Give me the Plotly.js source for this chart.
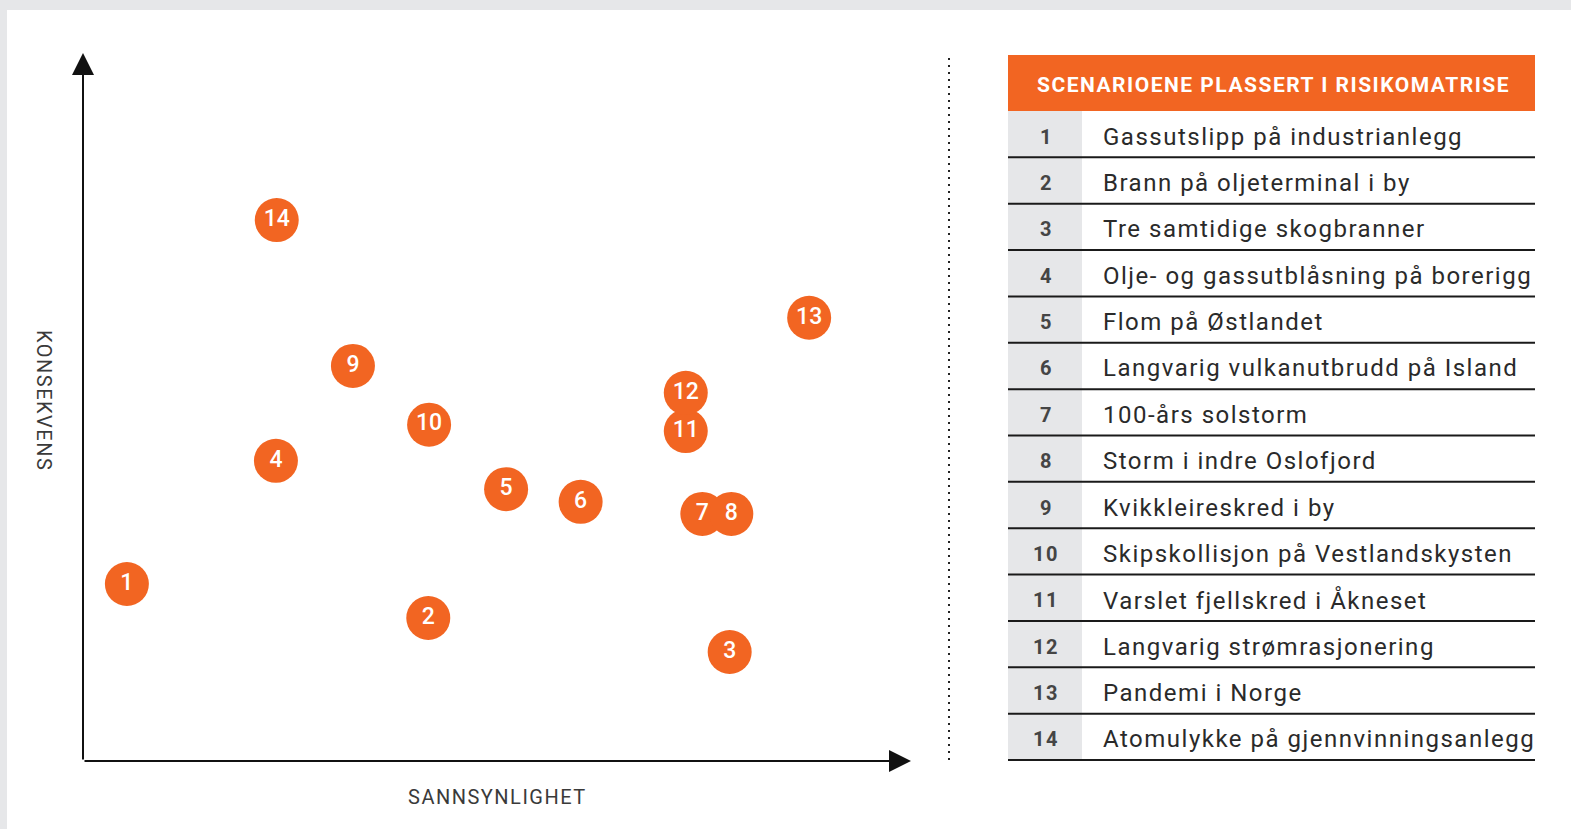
<!DOCTYPE html>
<html>
<head>
<meta charset="utf-8">
<script src="https://cdn.plot.ly/plotly-3.0.1.min.js"></script>
<style>
html,body{margin:0;padding:0;background:#e6e7e9;}
#chart{width:1571px;height:829px;}
.annotation-text{letter-spacing:1.5px;}
</style>
</head>
<body>
<div id="chart"></div>
<script>
// ---- data ----
const scenarioIds = [1,2,3,4,5,6,7,8,9,10,11,12,13,14];
const scenarioNames = [
  "Gassutslipp på industrianlegg",
  "Brann på oljeterminal i by",
  "Tre samtidige skogbranner",
  "Olje- og gassutblåsning på borerigg",
  "Flom på Østlandet",
  "Langvarig vulkanutbrudd på Island",
  "100-års solstorm",
  "Storm i indre Oslofjord",
  "Kvikkleireskred i by",
  "Skipskollisjon på Vestlandskysten",
  "Varslet fjellskred i Åkneset",
  "Langvarig strømrasjonering",
  "Pandemi i Norge",
  "Atomulykke på gjennvinningsanlegg"
];
const sannsynlighet = [5.3, 41.7, 78.1, 23.3, 51.1, 60.1, 74.8, 78.3, 32.6, 41.8, 72.8, 72.8, 87.7, 23.4];
const konsekvens   = [25.0, 20.2, 15.4, 42.4, 38.4, 36.6, 34.9, 34.9, 55.8, 47.5, 46.6, 52.0, 62.6, 76.4];
const tableTitle = "SCENARIOENE PLASSERT I RISIKOMATRISE";
const xTitle = "SANNSYNLIGHET";
const yTitle = "KONSEKVENS";

// ---- layout helpers ----
const W = 1571, H = 829;
const px = x => x / W;
const py = y => 1 - y / H;
const ORANGE = '#f26522';
const GREY = '#e6e7e9';

const shapes = [];
const annotations = [];
function label(x, y, text, font, extra) {
  annotations.push(Object.assign({xref:'paper', yref:'paper', x:px(x), y:py(y), text:text,
    showarrow:false, xanchor:'center', yanchor:'middle', font:font}, extra || {}));
}

// white page
shapes.push({type:'rect', xref:'paper', yref:'paper', x0:px(7), x1:1, y0:0, y1:py(10),
  fillcolor:'#ffffff', line:{width:0}, layer:'below'});
// dotted divider
shapes.push({type:'line', xref:'paper', yref:'paper', x0:px(949), x1:px(949), y0:py(58), y1:py(762),
  line:{color:'#222', width:2, dash:'2px,5px'}});

// table
const tX0 = 1008, tX1 = 1535, numX1 = 1082, hY0 = 55, hY1 = 111, tY1 = 760;
const rowH = (tY1 - hY1) / scenarioNames.length;
shapes.push({type:'rect', xref:'paper', yref:'paper', x0:px(tX0), x1:px(tX1), y0:py(hY1), y1:py(hY0),
  fillcolor:ORANGE, line:{width:0}});
shapes.push({type:'rect', xref:'paper', yref:'paper', x0:px(tX0), x1:px(numX1), y0:py(tY1), y1:py(hY1),
  fillcolor:GREY, line:{width:0}});
label((tX0+tX1)/2 + 2, 85, tableTitle, {family:'Roboto', size:21, color:'#ffffff', weight:700});

scenarioNames.forEach((name, i) => {
  const yb = hY1 + (i+1)*rowH;
  const yc = hY1 + (i+0.5)*rowH + 2.5;
  shapes.push({type:'line', xref:'paper', yref:'paper', x0:px(tX0), x1:px(tX1), y0:py(yb), y1:py(yb),
    line:{color:'#1a1a1a', width:2}});
  label(1046, yc, String(scenarioIds[i]), {family:'Roboto', size:20, color:'#454545', weight:700});
  label(1101, yc, name, {family:'Roboto', size:24, color:'#2a2a2a'}, {xanchor:'left'});
});

// axis arrows
annotations.push({xref:'x', yref:'y', axref:'x', ayref:'y', x:0, y:100, ax:0, ay:0, text:'',
  showarrow:true, arrowhead:2, arrowsize:2.2, arrowwidth:2, arrowcolor:'#111'});
annotations.push({xref:'x', yref:'y', axref:'x', ayref:'y', x:100, y:0, ax:0, ay:0, text:'',
  showarrow:true, arrowhead:2, arrowsize:2.2, arrowwidth:2, arrowcolor:'#111'});
// axis titles
label(497, 797, xTitle, {family:'Roboto', size:20, color:'#3a3a3a'});
label(44, 400, yTitle, {family:'Roboto', size:20, color:'#3a3a3a'}, {textangle:90});

const trace = {
  type:'scatter', mode:'markers+text',
  x: sannsynlighet, y: konsekvens,
  text: scenarioIds.map(String),
  textposition:'middle center',
  marker:{size:44, color:ORANGE, line:{width:0}},
  textfont:{family:'Roboto', size:23, color:'#ffffff', weight:500},
  hoverinfo:'skip', cliponaxis:false
};

const layout = {
  width:W, height:H,
  margin:{l:0, r:0, t:0, b:0},
  paper_bgcolor:GREY, plot_bgcolor:'rgba(0,0,0,0)',
  showlegend:false,
  xaxis:{domain:[px(83), px(911)], range:[0,100], visible:false, fixedrange:true},
  yaxis:{domain:[py(761), py(53)], range:[0,100], visible:false, fixedrange:true},
  shapes: shapes,
  annotations: annotations
};

Plotly.newPlot('chart', [trace], layout, {displayModeBar:false, staticPlot:true});
</script>
</body>
</html>
